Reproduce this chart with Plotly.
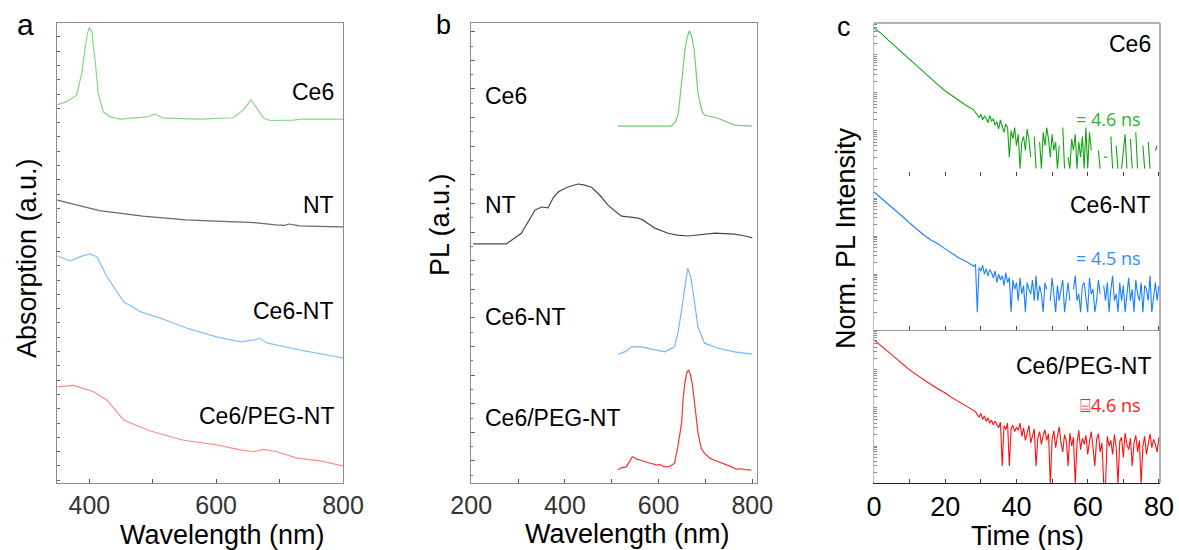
import numpy as np
import plotly.graph_objects as go

W, H = 1179, 550

# ---------------- Panel a: absorption (a.u., offset-stacked) ----------------
abs_ce6_nm = [349.5, 364, 380, 388, 393, 397, 400, 404, 409, 414, 422, 433, 449, 491, 503, 517,
              575, 627, 643, 655, 664, 675, 685, 722, 733, 800]
abs_ce6 = [8.22, 8.29, 8.43, 8.91, 9.41, 9.78, 9.90, 9.81, 9.20, 8.47, 8.07, 7.96, 7.91, 7.96, 8.02, 7.93,
           7.91, 7.94, 8.11, 8.33, 8.15, 7.93, 7.88, 7.89, 7.91, 7.91]
abs_nt_nm = [349.5, 390, 416, 450, 484, 520, 552, 590, 626, 660, 694, 708, 715, 731, 760, 800]
abs_nt = [6.15, 6.01, 5.92, 5.86, 5.80, 5.76, 5.72, 5.70, 5.68, 5.66, 5.61, 5.60, 5.63, 5.59, 5.58, 5.57]
abs_ce6nt_nm = [349.5, 370, 386, 401, 412, 428, 454, 481, 513, 555, 602, 639, 660, 668, 681, 707, 733, 800]
abs_ce6nt = [4.93, 4.83, 4.92, 4.98, 4.92, 4.48, 3.94, 3.72, 3.58, 3.36, 3.17, 3.07, 3.11, 3.15, 3.04,
             2.96, 2.89, 2.72]
abs_peg_nm = [349.5, 375, 406, 428, 454, 496, 549, 601, 638, 659, 675, 696, 727, 764, 800]
abs_peg = [2.09, 2.12, 1.99, 1.80, 1.37, 1.13, 0.93, 0.83, 0.72, 0.68, 0.73, 0.68, 0.54, 0.48, 0.37]

# ---------------- Panel b: PL (a.u., offset-stacked) ----------------
pl_ce6_nm = [513, 627, 636, 642, 650, 656, 661, 666, 671, 676, 684, 692, 698, 727, 762, 800]
pl_ce6 = [7.76, 7.76, 7.85, 8.04, 8.80, 9.41, 9.70, 9.83, 9.70, 9.41, 8.47, 8.10, 8.00, 7.93, 7.78, 7.76]
pl_nt_nm = [204, 275, 307, 322, 336, 350, 364, 375, 386, 405, 428, 440, 457, 475, 492, 506, 521, 540,
            556, 566, 592, 620, 640, 663, 690, 720, 740, 762, 785, 800]
pl_nt = [5.20, 5.20, 5.43, 5.70, 5.93, 6.00, 5.98, 6.20, 6.33, 6.43, 6.50, 6.48, 6.43, 6.25, 6.04, 5.92,
         5.80, 5.78, 5.76, 5.72, 5.54, 5.43, 5.39, 5.37, 5.40, 5.43, 5.42, 5.41, 5.37, 5.33]
pl_ce6nt_nm = [513, 530, 542, 563, 590, 613, 634, 642, 649, 656, 662, 668, 674, 684, 698, 727, 762, 800]
pl_ce6nt = [2.80, 2.86, 2.96, 2.96, 2.90, 2.85, 2.96, 3.30, 3.76, 4.30, 4.67, 4.50, 4.13, 3.39, 3.04,
            2.93, 2.85, 2.80]
pl_peg_nm = [513, 520, 531, 540, 544, 549, 553, 560, 568, 574, 582, 590, 595, 603, 610, 617, 625, 634,
             641, 649, 652, 656, 660, 664, 668, 672, 676, 680, 684, 691, 698, 709, 718, 728, 738, 748,
             756, 766, 775, 785, 798]
pl_peg = [0.28, 0.33, 0.35, 0.50, 0.57, 0.55, 0.52, 0.50, 0.47, 0.46, 0.43, 0.41, 0.39, 0.40, 0.36, 0.35,
          0.37, 0.43, 0.79, 1.30, 1.80, 2.17, 2.40, 2.46, 2.35, 2.15, 1.85, 1.45, 1.09, 0.75, 0.65, 0.54,
          0.50, 0.46, 0.43, 0.39, 0.35, 0.30, 0.31, 0.29, 0.28]

# ---------------- Panel c: PL decays (photon counts) ----------------
t_fast = [0, 2, 4, 6, 8, 10, 12, 14, 16, 18, 20, 22, 24, 26, 28]
tail_t0, tail_dt = 28.5, 0.5
dec_ce6_fast = [5000, 3600, 2400, 1625, 1100, 720, 490, 330, 230, 160, 110, 81, 60, 45, 35]
dec_ce6_tail = [30, 26, 22, 27, 19, 24, 21, 16, 25, 18,
                20, 14, 17, 11, 19, 13, 9, 15, 12, 2,
                10, 6, 12, 4, 8, 1, 5, 7, 3, 11, 6, 2,
                0, 7, 1, 0, 5, 1,
                9, 4, 12, 6, 2, 8,
                3, 5, 1, 4,
                0, 12, 1, 0, 2, 1,
                6, 3, 8, 1, 5, 2, 7, 1,
                12, 1, 9, 3, 0, 1,
                0, 3, 1, 0, 2, 2,
                2, 0, 7, 1, 0, 4, 1, 0, 1, 3,
                8, 1, 0, 6, 1, 0, 9, 1,
                0, 0, 4, 1, 0, 5, 1, 0, 0, 3, 4, 0]
dec_ce6nt_fast = [1440, 1005, 700, 471, 327, 221, 153, 107, 79, 62, 46, 34, 26, 21, 16]
dec_ce6nt_tail = [18, 1, 15, 12, 17, 10, 14, 9, 13, 11,
                  8, 12, 6, 10, 7, 9, 5, 11, 6, 8,
                  1, 7, 4, 6, 2, 8, 3, 5, 1, 6, 4, 3, 7, 2,
                  9, 2, 5, 3, 1, 6, 4, 0, 2, 8, 3, 1, 5, 2, 4, 7, 1, 3, 6, 2,
                  0, 4, 9, 2, 3, 1, 5, 6, 2, 1, 8, 3, 4, 1, 2, 7, 3, 0, 5, 2,
                  6, 1, 4, 9, 2, 3, 1, 6, 2, 5, 1, 3, 8, 2, 4, 1, 7, 3, 2, 6,
                  1, 5, 4, 2, 9, 1, 3, 6, 2, 5]
dec_peg_fast = [6160, 4290, 2980, 2070, 1440, 1000, 740, 546, 416, 317, 248, 184, 144, 113, 89]
dec_peg_tail = [80, 66, 58, 72, 50, 62, 44, 55, 40, 48, 36, 45,
                38, 30, 42, 3, 34, 27, 40, 3, 29, 35, 24, 31,
                26, 40, 18, 30, 14, 22, 35, 12, 20, 28, 3, 16, 24, 11, 19, 27, 14, 21,
                1, 15, 25, 9, 18, 32, 12, 7, 20, 14, 3, 22, 10, 17, 1, 12, 26, 8, 16, 11,
                19, 6, 13, 24, 9, 3, 15, 21, 7, 12, 1, 1, 18, 10, 14, 6, 20, 9, 1, 13,
                17, 5, 22, 11, 8, 16, 3, 12, 19, 7, 14, 1, 10, 18, 6, 13, 21, 9, 15, 11, 7, 17]

labels = ["Ce6", "NT", "Ce6-NT", "Ce6/PEG-NT"]
lifetimes = ["= 4.6 ns", "= 4.5 ns", "\u2338" + "4.6 ns"]


def counts(vals):
    c = np.array(vals, float)
    return np.where(c > 0, c, np.nan)  # zero counts are not drawn on a log axis


def px(x):
    return x / W


def py(y):
    return 1 - y / H


FONT = "Liberation Sans, Arial, sans-serif"

fig = go.Figure()

# panel a
for xs, ys, col in [(abs_ce6_nm, abs_ce6, "#86d886"), (abs_nt_nm, abs_nt, "#6a6a6a"),
                    (abs_ce6nt_nm, abs_ce6nt, "#86c2ff"), (abs_peg_nm, abs_peg, "#ff8c8c")]:
    fig.add_trace(go.Scatter(x=xs, y=ys, mode="lines", line=dict(color=col, width=1.2),
                             xaxis="x", yaxis="y", hoverinfo="skip"))
# panel b
for xs, ys, col in [(pl_ce6_nm, pl_ce6, "#6fd06f"), (pl_nt_nm, pl_nt, "#4a4a4a"),
                    (pl_ce6nt_nm, pl_ce6nt, "#74b8ff"), (pl_peg_nm, pl_peg, "#ff3030")]:
    fig.add_trace(go.Scatter(x=xs, y=ys, mode="lines", line=dict(color=col, width=1.2),
                             xaxis="x2", yaxis="y2", hoverinfo="skip"))
# panel c
for (fast, tail), col, ax in [((dec_ce6_fast, dec_ce6_tail), "#14a514", "3"),
                              ((dec_ce6nt_fast, dec_ce6nt_tail), "#1a80ff", "4"),
                              ((dec_peg_fast, dec_peg_tail), "#ff1010", "5")]:
    t_tail = tail_t0 + tail_dt * np.arange(len(tail))
    t = np.concatenate([np.array(t_fast, float), t_tail])
    fig.add_trace(go.Scatter(x=t, y=counts(list(fast) + list(tail)), mode="lines",
                             line=dict(color=col, width=1.1),
                             xaxis="x" + ax, yaxis="y" + ax, hoverinfo="skip", connectgaps=False))

frame = "#8c8c8c"
tickfont_ab = dict(family=FONT, size=25, color="#333333")
tickfont_c = dict(family=FONT, size=27, color="#000000")

ya = py(483)
yt = py(23)

layout = dict(
    width=W, height=H, margin=dict(l=0, r=0, t=0, b=0, pad=0, autoexpand=False),
    paper_bgcolor="white", plot_bgcolor="white", showlegend=False,
    font=dict(family=FONT, color="black"),
    xaxis=dict(domain=[px(57), px(343)], range=[349, 800], anchor="y", automargin=False,
               tickmode="array", tickvals=[400, 500, 600, 700, 800], ticktext=["400", "", "600", "", "800"],
               ticks="inside", ticklen=4, tickcolor="#555", tickfont=tickfont_ab,
               showline=True, linecolor=frame, mirror=True, showgrid=False, zeroline=False),
    yaxis=dict(domain=[ya, yt], range=[0, 10], anchor="x", tick0=9.70, dtick=0.311, automargin=False,
               ticks="inside", ticklen=3, tickcolor="#666", showticklabels=False,
               showline=True, linecolor=frame, mirror=True, showgrid=False, zeroline=False),
    xaxis2=dict(domain=[px(471), px(757)], range=[199.5, 810], anchor="y2", automargin=False,
                tickmode="array", tickvals=[200, 300, 400, 500, 600, 700, 800],
                ticktext=["200", "", "400", "", "600", "", "800"],
                ticks="inside", ticklen=4, tickcolor="#555", tickfont=tickfont_ab,
                showline=True, linecolor=frame, mirror=True, showgrid=False, zeroline=False),
    yaxis2=dict(domain=[ya, yt], range=[0, 10], anchor="x2", tick0=9.81, dtick=0.622, automargin=False,
                ticks="inside", ticklen=4, tickcolor="#666", showticklabels=False,
                minor=dict(dtick=0.311, tick0=9.81, ticks="inside", ticklen=2, tickcolor="#777"),
                showline=True, linecolor=frame, mirror=True, showgrid=False, zeroline=False),
)

dom_c = [px(874), px(1160)]
rows = [("3", [py(176), yt], [-0.195, 3.83]),
        ("4", [py(330), py(176)], [-0.47, 3.58]),
        ("5", [ya, py(330)], [0.027, 4.05])]
logticks = [m * 10 ** k for k in range(0, 5) for m in range(1, 10)]
for ax, dom, rng in rows:
    last = ax == "5"
    layout["xaxis" + ax] = dict(
        domain=dom_c, range=[0, 80.3], anchor="y" + ax, automargin=False,
        tickmode="array", tickvals=[0, 10, 20, 30, 40, 50, 60, 70, 80],
        ticktext=["0", "", "20", "", "40", "", "60", "", "80"] if last else [""] * 9,
        showticklabels=last, ticks="inside", ticklen=4, tickcolor="#444", tickfont=tickfont_c,
        showline=(ax != "3"), linecolor=("#222" if last else "#999"), showgrid=False, zeroline=False)
    layout["yaxis" + ax] = dict(
        domain=dom, type="log", range=rng, anchor="x" + ax, automargin=False,
        tickmode="array", tickvals=logticks, showticklabels=False,
        ticks="inside", ticklen=3, tickcolor="#888",
        showline=True, linecolor="#bbbbbb", showgrid=False, zeroline=False)

fig.update_layout(**layout)

# frame lines of panel c (top and right edges)
fig.add_shape(type="line", xref="paper", yref="paper", x0=px(874), x1=px(1160), y0=yt, y1=yt,
              line=dict(color="#999", width=1.5))
fig.add_shape(type="line", xref="paper", yref="paper", x0=px(1160), x1=px(1160), y0=ya, y1=yt,
              line=dict(color="#999", width=1.5))


def note(text, x, y, size, color="black", xanchor="center", angle=0, family=FONT):
    fig.add_annotation(text=text, x=px(x), y=py(y), xref="paper", yref="paper", showarrow=False,
                       xanchor=xanchor, yanchor="middle", textangle=angle,
                       font=dict(family=family, size=size, color=color))


# panel letters
note("a", 25, 25, 30)
note("b", 443, 25, 27)
note("c", 844, 27, 27)

# axis titles
note("Absorption (a.u.)", 27, 258, 27, angle=-90)
note("PL (a.u.)", 440, 225, 27, angle=-90)
note("Norm. PL Intensity", 846, 238, 27, angle=-90)
note("Wavelength (nm)", 222, 535, 27)
note("Wavelength (nm)", 627, 534, 27)
note("Time (ns)", 1027, 536, 27)

# series labels
for lab, yy in zip(labels, [92, 205, 311, 416]):
    note(lab, 336, yy, 23, xanchor="right")
for lab, yy in zip(labels, [96, 205, 317, 418]):
    note(lab, 483, yy, 23, xanchor="left")
for lab, yy in zip([labels[0], labels[2], labels[3]], [44, 205, 366]):
    note(lab, 1153, yy, 23, xanchor="right")
for lab, yy, col in zip(lifetimes, [119, 258, 405], ["#2db52d", "#2f8fff", "#ff2020"]):
    note(lab, 1143, yy, 18, color=col, xanchor="right", family="Open Sans, DejaVu Sans, sans-serif")

fig.write_html("out.html", config={"displayModeBar": False},
               post_script="document.body.style.margin='0px';")
